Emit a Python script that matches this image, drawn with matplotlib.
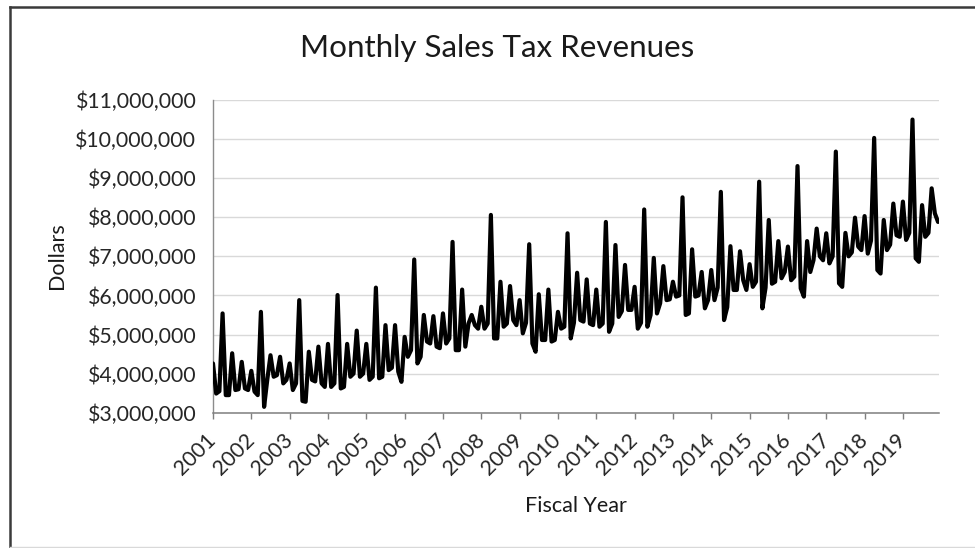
import matplotlib
matplotlib.use("Agg")
import matplotlib.pyplot as plt
from matplotlib.ticker import FuncFormatter, FixedLocator
from matplotlib.lines import Line2D
import numpy as np

plt.rcParams['font.family'] = ['Lato', 'DejaVu Sans']

# Fiscal years shown on the category axis
years = list(range(2001, 2020))

# Monthly sales tax revenue, millions of dollars, one row per fiscal year
rev_2001 = [4.26, 3.49, 3.55, 5.54, 3.45, 3.45, 4.52, 3.58, 3.60, 4.30, 3.62, 3.58]
rev_2002 = [4.07, 3.54, 3.45, 5.58, 3.15, 3.85, 4.47, 3.92, 3.96, 4.43, 3.75, 3.84]
rev_2003 = [4.26, 3.58, 3.75, 5.88, 3.30, 3.28, 4.56, 3.84, 3.80, 4.69, 3.75, 3.66]
rev_2004 = [4.76, 3.66, 3.75, 6.01, 3.62, 3.66, 4.76, 3.92, 4.00, 5.10, 3.92, 4.00]
rev_2005 = [4.76, 3.84, 3.92, 6.20, 3.88, 3.92, 5.24, 4.09, 4.15, 5.24, 4.05, 3.79]
rev_2006 = [4.94, 4.43, 4.60, 6.92, 4.26, 4.43, 5.50, 4.82, 4.77, 5.47, 4.69, 4.65]
rev_2007 = [5.54, 4.77, 4.90, 7.37, 4.60, 4.60, 6.15, 4.69, 5.28, 5.50, 5.24, 5.15]
rev_2008 = [5.71, 5.15, 5.28, 8.06, 4.90, 4.90, 6.35, 5.20, 5.28, 6.24, 5.37, 5.24]
rev_2009 = [5.88, 5.03, 5.30, 7.31, 4.77, 4.56, 6.03, 4.86, 4.86, 6.15, 4.82, 4.86]
rev_2010 = [5.58, 5.15, 5.20, 7.59, 4.90, 5.30, 6.58, 5.37, 5.33, 6.41, 5.28, 5.24]
rev_2011 = [6.15, 5.20, 5.28, 7.88, 5.07, 5.28, 7.29, 5.45, 5.60, 6.78, 5.63, 5.63]
rev_2012 = [6.22, 5.15, 5.30, 8.20, 5.20, 5.50, 6.96, 5.54, 5.80, 6.75, 5.88, 5.90]
rev_2013 = [6.35, 5.97, 6.00, 8.51, 5.50, 5.54, 7.18, 5.97, 6.00, 6.60, 5.67, 5.88]
rev_2014 = [6.65, 5.88, 6.20, 8.65, 5.37, 5.70, 7.26, 6.14, 6.14, 7.13, 6.39, 6.14]
rev_2015 = [6.80, 6.22, 6.35, 8.91, 5.67, 6.20, 7.93, 6.30, 6.35, 7.39, 6.44, 6.60]
rev_2016 = [7.25, 6.39, 6.48, 9.31, 6.18, 5.97, 7.39, 6.60, 6.90, 7.71, 7.00, 6.90]
rev_2017 = [7.59, 6.82, 7.00, 9.68, 6.31, 6.22, 7.60, 7.00, 7.10, 7.99, 7.25, 7.16]
rev_2018 = [8.03, 7.07, 7.40, 10.03, 6.65, 6.56, 7.93, 7.16, 7.30, 8.35, 7.54, 7.50]
rev_2019 = [8.40, 7.42, 7.60, 10.50, 6.95, 6.86, 8.31, 7.50, 7.60, 8.74, 8.10, 7.88]

monthly = np.array(rev_2001 + rev_2002 + rev_2003 + rev_2004 + rev_2005 +
                   rev_2006 + rev_2007 + rev_2008 + rev_2009 + rev_2010 +
                   rev_2011 + rev_2012 + rev_2013 + rev_2014 + rev_2015 +
                   rev_2016 + rev_2017 + rev_2018 + rev_2019) * 1e6

W, H = 975, 548
fig = plt.figure(figsize=(W / 100, H / 100), dpi=100)
fig.patch.set_facecolor('white')

# plot area in pixel coordinates
x0, x1, y0, y1 = 213, 939, 100, 412.7
ax = fig.add_axes([x0 / W, 1 - y1 / H, (x1 - x0) / W, (y1 - y0) / H])

months = np.arange(len(monthly))
ax.plot(months, monthly, color='black', lw=3.0,
        solid_joinstyle='round', solid_capstyle='round', zorder=3)

ax.set_xlim(0, len(monthly) - 0.7)
ax.set_ylim(3e6, 11e6)
ax.set_yticks(np.arange(3e6, 11.01e6, 1e6))
ax.yaxis.set_major_formatter(FuncFormatter(lambda v, p: '${:,.0f}'.format(v)))
ax.grid(axis='y', color='#d9d9d9', lw=1.0, zorder=0)
ax.set_axisbelow(True)

ax.xaxis.set_major_locator(FixedLocator([12 * k for k in range(len(years))]))
ax.set_xticklabels([str(y) for y in years], rotation=45,
                   ha='right', va='center', rotation_mode='anchor')

for side in ('top', 'right'):
    ax.spines[side].set_visible(False)
ax.spines['left'].set_color('#8c8c8c')
ax.spines['left'].set_linewidth(1.0)
ax.spines['bottom'].set_color('#7f7f7f')
ax.spines['bottom'].set_linewidth(1.1)

ax.tick_params(axis='y', length=0, pad=12, labelsize=15.3, labelcolor='#262626')
ax.tick_params(axis='x', length=4.5, width=1.0, color='#7f7f7f', pad=13,
               labelsize=15.3, labelcolor='#262626', direction='out')

fig.text(497.5 / W, 1 - 56.7 / H, 'Monthly Sales Tax Revenues',
         ha='center', va='baseline', fontsize=22.6, color='#1a1a1a')
fig.text(57 / W, 1 - 256 / H, 'Dollars', rotation=90,
         ha='center', va='center', fontsize=15.5, color='#1a1a1a')
fig.text(576 / W, 1 - 511.7 / H, 'Fiscal Year',
         ha='center', va='baseline', fontsize=15.5, color='#1a1a1a')

# frame around the chart
fig.add_artist(Line2D([9.5 / W, 9.5 / W], [0, 1 - 6.5 / H],
                      transform=fig.transFigure, color='#3a3a3a', lw=1.8))
fig.add_artist(Line2D([9.5 / W, 1], [1 - 6.5 / H, 1 - 6.5 / H],
                      transform=fig.transFigure, color='#3a3a3a', lw=1.8))
fig.add_artist(Line2D([9.5 / W, 1], [1 - 547 / H, 1 - 547 / H],
                      transform=fig.transFigure, color='#d9d9d9', lw=1.0))

fig.savefig('out.png', dpi=100)
